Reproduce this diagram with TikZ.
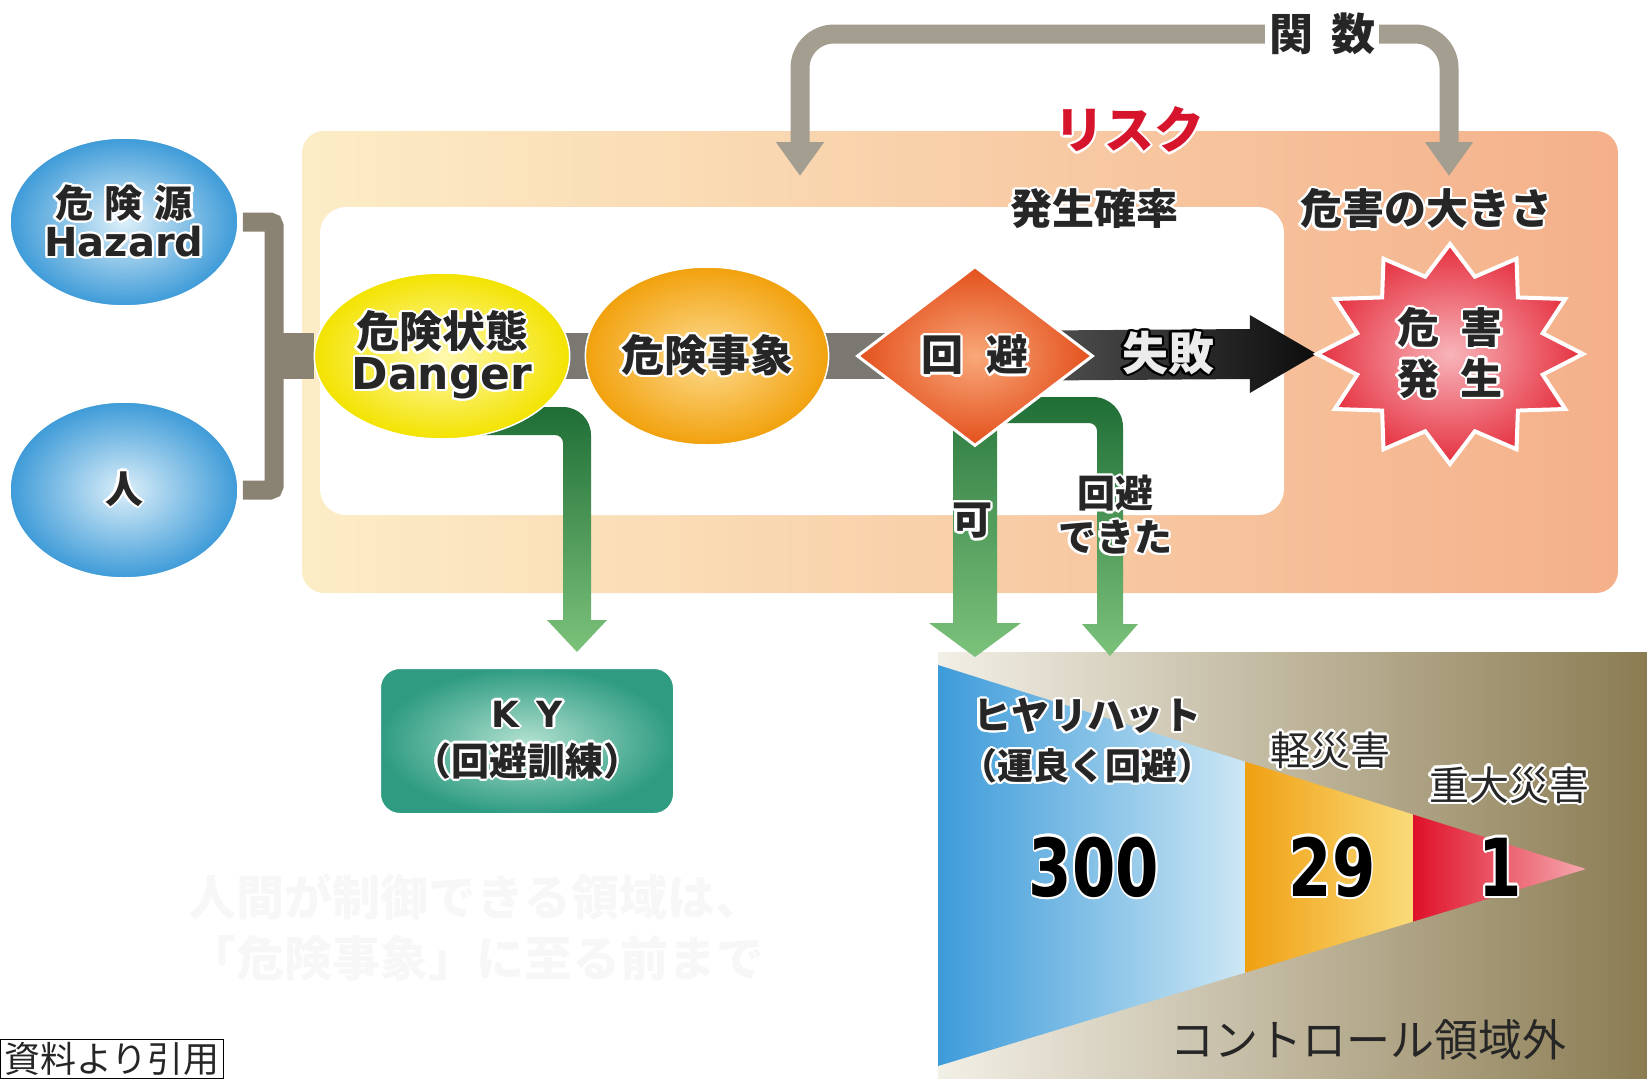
\documentclass[tikz,border=0pt]{standalone}
\usepackage{fontspec}
\usepackage{graphicx}
\usepackage{contour}
\setmainfont{Noto Sans CJK JP}
\newfontfamily\dvs{DejaVu Sans}
\usetikzlibrary{arrows.meta,shapes.geometric,calc}
\pgfdeclarelayer{back}
\pgfdeclarelayer{mid}
\pgfsetlayers{back,mid,main}
\definecolor{txt}{HTML}{262626}
\definecolor{riskL}{HTML}{FCEDC6}
\definecolor{riskR}{HTML}{F4B08A}
\definecolor{hazIn}{HTML}{DCEFF9}
\definecolor{hazOut}{HTML}{3E9BD8}
\definecolor{danIn}{HTML}{FFF9B0}
\definecolor{danOut}{HTML}{F3E300}
\definecolor{evIn}{HTML}{FDDC92}
\definecolor{evOut}{HTML}{F2A10D}
\definecolor{avIn}{HTML}{F9A87A}
\definecolor{avOut}{HTML}{E3501C}
\definecolor{stIn}{HTML}{F8B4BA}
\definecolor{stOut}{HTML}{E5303F}
\definecolor{kyIn}{HTML}{B0E0CF}
\definecolor{kyOut}{HTML}{2F9C82}
\definecolor{gTop}{HTML}{1F6E36}
\definecolor{gBot}{HTML}{7CC27B}
\definecolor{brk}{HTML}{8A8273}
\definecolor{barc}{HTML}{7B7872}
\definecolor{funcc}{HTML}{A49E91}
\definecolor{riskred}{HTML}{D6142C}
\definecolor{panL}{HTML}{F2EFE6}
\definecolor{panR}{HTML}{8B7C52}
\definecolor{blL}{HTML}{3D9BDA}
\definecolor{blR}{HTML}{CDE7F4}
\definecolor{yeL}{HTML}{F0A012}
\definecolor{yeR}{HTML}{FADB7A}
\definecolor{reL}{HTML}{DF1028}
\definecolor{reR}{HTML}{F6A8AE}
\contourlength{2.2pt}
\newcommand\fsz[1]{\fontsize{#1}{1.15\dimexpr#1pt\relax}\selectfont}
\newcommand\glw[1]{\contour{white}{#1}}
\newcommand\bnum[1]{\scalebox{0.78}[1]{\fsz{80}\dvs\bfseries\contour{white}{#1}}}
\begin{document}
\begin{tikzpicture}[x=1pt,y=1pt,
  every node/.style={text=txt, inner sep=0pt},
  blob/.style={ellipse, draw=white, line width=1.5, align=center},
  brkline/.style={draw=brk, line width=19, rounded corners=4},
  bar/.style={draw=barc, line width=46},
  funcline/.style={draw=funcc, line width=19, rounded corners=34},
  greenarr/.style={top color=gTop, bottom color=gBot}]
\useasboundingbox (0,0) rectangle (1647,-1079);

% ---------- nodes ----------
\node[blob, minimum width=228, minimum height=168, inner color=hazIn, outer color=hazOut] (hazard) at (124,-222)
  {\fsz{38}\bfseries\glw{危\hspace{12pt}険\hspace{12pt}源}\\[2pt]\fsz{40}\dvs\bfseries\glw{Hazard}};
\node[blob, minimum width=228, minimum height=176, inner color=hazIn, outer color=hazOut, font=\fsz{38}\bfseries] (person) at (124,-490)
  {\glw{人}};
\node[blob, minimum width=212, minimum height=166, inner color=danIn, outer color=danOut] (danger) at (442,-356)
  {\fsz{43}\bfseries\glw{危険状態}\\[2pt]\fsz{44}\dvs\bfseries\glw{Danger}};
\node[blob, minimum width=222, minimum height=178, inner color=evIn, outer color=evOut, font=\fsz{43}\bfseries] (event) at (707,-356)
  {\glw{危険事象}};
\node[diamond, minimum width=236, minimum height=180, draw=white, line width=3, inner color=avIn, outer color=avOut, font=\fsz{42}\bfseries] (avoid) at (975,-356)
  {\glw{回\hspace{24pt}避}};

% star
\coordinate (hc) at (1450,-354);
\shadedraw[shift={(hc)}, inner color=stIn, outer color=stOut, draw=white, line width=4, line join=miter]
  plot[samples=25, domain=0:24, variable=\k] ({(114.5+18.5*cos(\k*180))*cos(90+\k*15)}, {(95+15*cos(\k*180))*sin(90+\k*15)}) -- cycle;
\node[ellipse, minimum width=266, minimum height=220, align=center, font=\fsz{42}\bfseries] (harm) at (hc)
  {\glw{危\hspace{22pt}害}\\[2pt]\glw{発\hspace{22pt}生}};

\node[rectangle, rounded corners=20, minimum width=294, minimum height=146, inner color=kyIn, outer color=kyOut, draw=white, line width=2, align=center] (ky) at (527,-741)
  {\fsz{36}\dvs\bfseries\glw{K\hspace{18pt}Y}\\[12pt]\fsz{38}\bfseries\glw{（回避訓練）}};

% labels
\node[text=riskred, font=\fsz{50}\bfseries] (risklbl) at (1129,-131) {\glw{リスク}};
\node[fill=white, inner xsep=4, inner ysep=2, font=\fsz{44}\bfseries] (func) at (1322,-34) {関\hspace{18pt}数};
\node[font=\fsz{42}\bfseries] (prob) at (1094,-210) {\glw{発生確率}};
\node[font=\fsz{42}\bfseries] (size) at (1426,-210) {\glw{危害の大きさ}};
\node[font=\fsz{40}\bfseries] (ka) at (972,-522) {\glw{可}};
\node[align=center, font=\fsz{38}\bfseries] (kaihi) at (1115,-516) {\glw{回避}\\[0pt]\glw{できた}};
\node[text=white!92!black, font=\fsz{46}\bfseries] (fail) at (1168,-354) {\contour{black}{失敗}};
\node[align=center, text=black!3, font=\fsz{48}\bfseries] (note) at (476,-927) {人間が制御できる領域は、\\[6pt]「危険事象」に至る前まで};

% ---------- background layer ----------
\begin{pgfonlayer}{back}
\node[rounded corners=22, minimum width=1316, minimum height=462, left color=riskL, right color=riskR] (riskbox) at (960,-362) {};
\node[rounded corners=26, fill=white, minimum width=964, minimum height=308] (innerbox) at (802,-361) {};
\node[anchor=north west, minimum width=709, minimum height=427, left color=panL, right color=panR] (panel) at (938,-652) {};
\shade[left color=blL, right color=blR] (938,-665) -- (1245,-761.6) -- (1245,-972.7) -- (938,-1066) -- cycle;
\shade[left color=yeL, right color=yeR] (1245,-761.6) -- (1413,-814.5) -- (1413,-921.6) -- (1245,-972.7) -- cycle;
\shade[left color=reL, right color=reR] (1413,-814.5) -- (1586,-869) -- (1413,-921.6) -- cycle;
\end{pgfonlayer}

% chart labels
\node[font=\fsz{38}\bfseries] (hiyari) at (1087,-717) {\glw{ヒヤリハット}};
\node[font=\fsz{36}\bfseries] (unyoku) at (1087,-767) {\glw{（運良く回避）}};
\node[font=\fsz{40}] (kei) at (1330,-751) {\glw{軽災害}};
\node[font=\fsz{40}] (juu) at (1509,-786) {\glw{重大災害}};
\node[text=black] (n300) at (1094,-868) {\bnum{300}};
\node[text=black] (n29) at (1332,-868) {\bnum{29}};
\node[text=black] (n1) at (1500,-868) {\bnum{1}};
\node[font=\fsz{44}] (ctrl) at (1368,-1040) {コントロール領域外};
\node[draw=black, line width=1.2, inner xsep=4, inner ysep=3, anchor=south west, font=\fsz{36}] (src) at (0,-1079) {資料より引用};

% ---------- connectors ----------
\begin{pgfonlayer}{mid}
\coordinate (jn) at (274,-356);
\draw[brkline] ($(hazard.east)+(4,0)$) -| (jn) |- ($(person.east)+(4,0)$);
\draw[draw=brk, line width=46] (jn) -- (danger.west);
\draw[bar] (danger.center) -- (event.center);
\draw[bar] (event.center) -- (avoid.center);

% fail arrow
\shade[left color=black!62, right color=black!95]
  ($(avoid.center)+(0,25)$) -- ($(harm.west)+(-67,25)$) -- ($(harm.west)+(-67,39)$) -- (harm.west)
  -- ($(harm.west)+(-67,-39)$) -- ($(harm.west)+(-67,-25)$) -- ($(avoid.center)+(0,-25)$) -- cycle;

% function arrow
\coordinate (fL) at (800,-176);
\coordinate (fR) at (1449,-176);
\draw[funcline, {Triangle[length=34pt,width=46pt]}-] (fL) |- (func.west);
\draw[funcline, -{Triangle[length=34pt,width=46pt]}] (func.east) -| (fR);

% green arrow: danger -> KY
\coordinate (aT) at ($(ky.north)+(50,15)$);
\coordinate (aS) at ($(danger.center)+(40,-65)$);
\coordinate (aC) at (aS -| aT);
\shade[greenarr] ($(aS)+(0,14)$) -- ($(aC)+(-14,14)$) arc[start angle=90, end angle=0, radius=28]
  -- ($(aT)+(14,32)$) -- ($(aT)+(30,32)$) -- (aT) -- ($(aT)+(-30,32)$) -- ($(aT)+(-14,32)$)
  -- ($(aC)+(-14,-22)$) arc[start angle=0, end angle=90, radius=8] -- ($(aS)+(0,-14)$) -- cycle;

% green arrow: avoid -> chart (可)
\coordinate (bT) at (975,-657);
\shade[greenarr] ($(avoid.center)+(-22,0)$) -- ($(avoid.center)+(22,0)$) -- ($(bT)+(22,34)$) -- ($(bT)+(46,34)$)
  -- (bT) -- ($(bT)+(-46,34)$) -- ($(bT)+(-22,34)$) -- cycle;

% green arrow: avoid -> chart (回避できた)
\coordinate (cT) at (1110,-656);
\coordinate (cS) at ($(avoid.center)+(30,-54)$);
\coordinate (cC) at (cS -| cT);
\shade[greenarr] ($(cS)+(0,13)$) -- ($(cC)+(-17,13)$) arc[start angle=90, end angle=0, radius=30]
  -- ($(cT)+(13,32)$) -- ($(cT)+(28,32)$) -- (cT) -- ($(cT)+(-28,32)$) -- ($(cT)+(-13,32)$)
  -- ($(cC)+(-13,-21)$) arc[start angle=0, end angle=90, radius=8] -- ($(cS)+(0,-13)$) -- cycle;
\end{pgfonlayer}
\end{tikzpicture}
\end{document}
